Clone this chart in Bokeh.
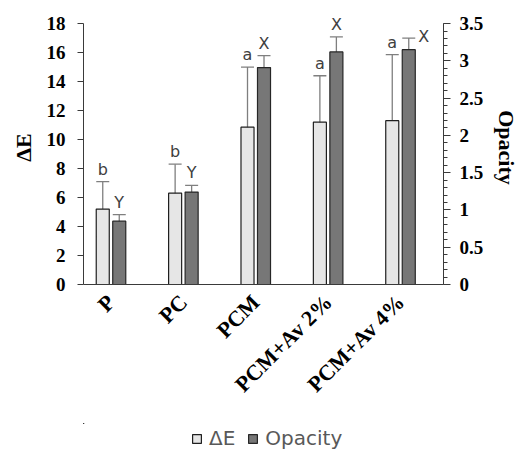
import math
from bokeh.plotting import figure
from bokeh.layouts import column
from bokeh.models import (Range1d, LinearAxis, SingleIntervalTicker, FixedTicker, ColumnDataSource,
                          Whisker, TeeHead, LabelSet, Legend, LegendItem, CustomJSTickFormatter)
from bokeh.core.properties import value
from bokeh.embed import file_html
from bokeh.resources import INLINE

categories = ["P", "PC", "PCM", "PCM+Av 2%", "PCM+Av 4%"]
delta_e = [5.2, 6.3, 10.85, 11.2, 11.3]
delta_e_err = [1.9, 2.0, 4.15, 3.2, 4.55]
opacity = [0.85, 1.24, 2.91, 3.12, 3.15]
opacity_err = [0.087, 0.09, 0.16, 0.2, 0.155]
delta_e_letters = ["b", "b", "a", "a", "a"]
opacity_letters = ["Y", "Y", "X", "X", "X"]
series_names = ["ΔE", "Opacity"]

# styling
DE_FILL, OP_FILL = "#e6e6e6", "#777777"
DE_LINE, OP_LINE = "#1f1f1f", "#262626"
OFF = 0.114
BW = 0.18
idx = list(range(len(categories)))
de_src = ColumnDataSource(dict(
    x=[i - OFF for i in idx], v=delta_e,
    up=[v + e for v, e in zip(delta_e, delta_e_err)],
    lo=[v - e for v, e in zip(delta_e, delta_e_err)],
    t=delta_e_letters))
op_src = ColumnDataSource(dict(
    x=[i + OFF for i in idx], v=opacity,
    up=[v + e for v, e in zip(opacity, opacity_err)],
    lo=[v - e for v, e in zip(opacity, opacity_err)],
    t=opacity_letters,
    xo=[0, 0, 0, 0, 15], yo=[3, 3, 3, 3, -8]))

# axis maxima 18 / 3.5, range extended a little so letters above bars are not clipped
p = figure(width=525, height=423, output_backend="svg", toolbar_location=None,
           x_range=Range1d(-0.38, 4.594), y_range=Range1d(0, 18.9),
           min_border_left=83, min_border_right=82, min_border_top=10, min_border_bottom=139)
p.extra_y_ranges = {"op": Range1d(0, 3.5 * 18.9 / 18)}
p.outline_line_color = None
p.xgrid.visible = False
p.ygrid.visible = False

p.vbar(x="x", top="v", width=BW, source=de_src, fill_color=DE_FILL, line_color=DE_LINE, line_width=1.2)
p.vbar(x="x", top="v", width=BW, source=op_src, fill_color=OP_FILL, line_color=OP_LINE, line_width=1.2,
       y_range_name="op")

ecol = "#7f7f7f"
w1 = Whisker(base="x", upper="up", lower="lo", source=de_src, dimension="height",
             line_color=ecol, line_width=1.3,
             upper_head=TeeHead(size=13, line_color=ecol, line_width=1.3),
             lower_head=TeeHead(size=13, line_color=ecol, line_width=1.3))
w2 = Whisker(base="x", upper="up", lower="lo", source=op_src, dimension="height",
             line_color=ecol, line_width=1.3, y_range_name="op",
             upper_head=TeeHead(size=13, line_color=ecol, line_width=1.3),
             lower_head=TeeHead(size=13, line_color=ecol, line_width=1.3))
p.add_layout(w1)
p.add_layout(w2)

lab_font = value("DejaVu Sans")
l1 = LabelSet(x="x", y="up", text="t", source=de_src, text_align="center", text_baseline="bottom",
              y_offset=3, text_font=lab_font, text_font_size=value("16px"), text_color="#404040")
l2 = LabelSet(x="x", y="up", text="t", source=op_src, text_align="center", text_baseline="bottom",
              x_offset="xo", y_offset="yo", y_range_name="op",
              text_font=lab_font, text_font_size=value("16px"), text_color="#404040")
p.add_layout(l1)
p.add_layout(l2)

axcol = "#3a3a3a"
serif = "Liberation Serif"

ya = p.yaxis[0]
ya.ticker = SingleIntervalTicker(interval=2, num_minor_ticks=0)
ya.bounds = (0, 18)
ya.axis_label = series_names[0]
ya.axis_label_text_font = serif
ya.axis_label_text_font_style = "bold"
ya.axis_label_text_font_size = "22px"
ya.axis_label_text_color = "black"
ya.axis_label_standoff = 8
ya.major_label_text_font = serif
ya.major_label_text_font_style = "bold"
ya.major_label_text_font_size = "19px"
ya.major_label_text_color = "black"
ya.major_label_standoff = 12
ya.axis_line_color = axcol
ya.major_tick_line_color = axcol
ya.major_tick_out = 6
ya.major_tick_in = 0
ya.minor_tick_line_color = None

ra = LinearAxis(y_range_name="op", ticker=SingleIntervalTicker(interval=0.5, num_minor_ticks=5),
                formatter=CustomJSTickFormatter(code="return (Math.round(tick*10)/10).toString();"),
                bounds=(0, 3.5))
ra.axis_label = series_names[1]
ra.axis_label_text_font = serif
ra.axis_label_text_font_style = "bold"
ra.axis_label_text_font_size = "22px"
ra.axis_label_text_color = "black"
ra.axis_label_standoff = 8
ra.major_label_text_font = serif
ra.major_label_text_font_style = "bold"
ra.major_label_text_font_size = "19px"
ra.major_label_text_color = "black"
ra.major_label_standoff = 9
ra.axis_line_color = axcol
ra.major_tick_line_color = axcol
ra.minor_tick_line_color = axcol
ra.major_tick_out = 7
ra.major_tick_in = 0
ra.minor_tick_out = 4
ra.minor_tick_in = 0
p.add_layout(ra, "right")

xa = p.xaxis[0]
xa.ticker = FixedTicker(ticks=idx)
xa.major_label_overrides = {i: c for i, c in zip(idx, categories)}
xa.major_label_orientation = math.pi / 4
xa.major_label_text_font = serif
xa.major_label_text_font_style = "bold"
xa.major_label_text_font_size = "22px"
xa.major_label_text_color = "black"
xa.axis_line_color = axcol
xa.major_tick_line_color = None
xa.minor_tick_line_color = None
xa.major_label_standoff = 8

# legend strip below the chart (its bars lie far outside its own visible ranges; only the legend shows)
lf = figure(width=525, height=30, output_backend="svg", toolbar_location=None,
            x_axis_type=None, y_axis_type=None, min_border=0,
            x_range=Range1d(1000, 1001), y_range=Range1d(-1000, -999))
lf.outline_line_color = None
lf.xgrid.visible = False
lf.ygrid.visible = False
s1 = lf.vbar(x="x", top="v", width=BW, source=de_src, fill_color=DE_FILL, line_color=DE_LINE, line_width=1.2)
s2 = lf.vbar(x="x", top="v", width=BW, source=op_src, fill_color=OP_FILL, line_color=OP_LINE, line_width=1.2)
legend = Legend(items=[LegendItem(label=series_names[0], renderers=[s1]),
                       LegendItem(label=series_names[1], renderers=[s2])],
                orientation="horizontal", location=(108, 3), border_line_color=None,
                background_fill_alpha=0, label_text_font="DejaVu Sans", label_text_font_size="20px",
                label_text_color="#595959", glyph_width=11, glyph_height=11, spacing=12,
                label_standoff=7, padding=0, margin=0)
lf.add_layout(legend, "center")

layout = column(p, lf, spacing=0)
open("out.html", "w").write(file_html(layout, INLINE))
